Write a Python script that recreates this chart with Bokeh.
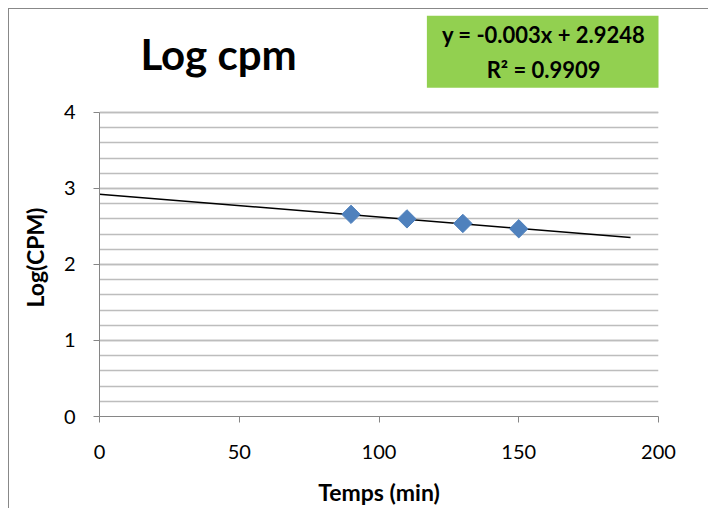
from bokeh.plotting import figure
from bokeh.models import Range1d, SingleIntervalTicker, Label
from bokeh.embed import file_html
from bokeh.resources import INLINE

# Data
time_min = [90, 110, 130, 150]
log_cpm = [2.66, 2.60, 2.54, 2.47]
trend_slope = -0.003
trend_intercept = 2.9248
trend_x = [0, 190]
trend_y = [trend_intercept + trend_slope * x for x in trend_x]
title_text = "Log cpm"
equation_text = "y = -0.003x + 2.9248\nR² = 0.9909"
x_label = "Temps (min)"
y_label = "Log(CPM)"
y_ticks_range = (0, 4)

FONT = "Lato"
AXIS_COL = "#868686"
GRID_COL = "#BDBDBD"

p = figure(width=700, height=500, output_backend="svg", toolbar_location=None, title=None,
           x_range=Range1d(0, 200), y_range=Range1d(0, 5.355),
           min_border_left=90, min_border_right=51, min_border_top=0, min_border_bottom=93)
p.styles = {"margin-left": "8px", "margin-top": "8px",
            "border-left": "1px solid #888888", "border-top": "1px solid #888888"}
p.outline_line_color = None
p.background_fill_color = "white"
p.border_fill_color = "white"

# axes
p.xaxis.ticker = SingleIntervalTicker(interval=50, num_minor_ticks=0)
p.yaxis.ticker = SingleIntervalTicker(interval=1, num_minor_ticks=5)
p.yaxis.bounds = y_ticks_range
for ax in (p.xaxis, p.yaxis):
    ax.axis_line_color = AXIS_COL
    ax.major_tick_line_color = AXIS_COL
    ax.major_tick_out = 6
    ax.major_tick_in = 0
    ax.minor_tick_line_color = None
    ax.major_label_text_font = FONT
    ax.major_label_text_font_size = "20px"
    ax.major_label_text_color = "black"
    ax.axis_label_text_font = FONT
    ax.axis_label_text_font_style = "bold"
    ax.axis_label_text_font_size = "23px"
    ax.axis_label_text_color = "black"
p.xaxis.major_label_standoff = 22
p.yaxis.major_label_standoff = 18
p.xaxis.axis_label = x_label
# trailing em spaces centre the label on the 0-4 part of the axis, as in the reference
p.yaxis.axis_label = y_label + "\u2003" * 5 + "\u2009"
p.xaxis.axis_label_standoff = 16
p.yaxis.axis_label_standoff = 12

p.xgrid.grid_line_color = None
p.ygrid.bounds = y_ticks_range
p.ygrid.grid_line_color = GRID_COL
p.ygrid.minor_grid_line_color = GRID_COL
p.ygrid.grid_line_width = 1.5
p.ygrid.minor_grid_line_width = 1.5

# trendline
p.line(trend_x, trend_y, line_color="black", line_width=1.5)
# points
p.scatter(time_min, log_cpm, marker="square", angle=0.785398, size=13,
          fill_color="#4F81BD", line_color="#4F81BD")

# title
p.add_layout(Label(x=42.6, y=4.77, text=title_text,
                   text_font=FONT, text_font_style="bold",
                   text_font_size="42px", text_align="center", text_baseline="middle",
                   text_color="black"))
# equation box
p.add_layout(Label(x=158.9, y=4.80, text=equation_text,
                   text_font=FONT, text_font_style="bold",
                   text_font_size="22px", text_align="center", text_baseline="middle",
                   text_line_height=1.3,
                   text_color="black", background_fill_color="#92D050",
                   padding=(15, 5)))

open("out.html", "w").write(file_html(p, INLINE))
